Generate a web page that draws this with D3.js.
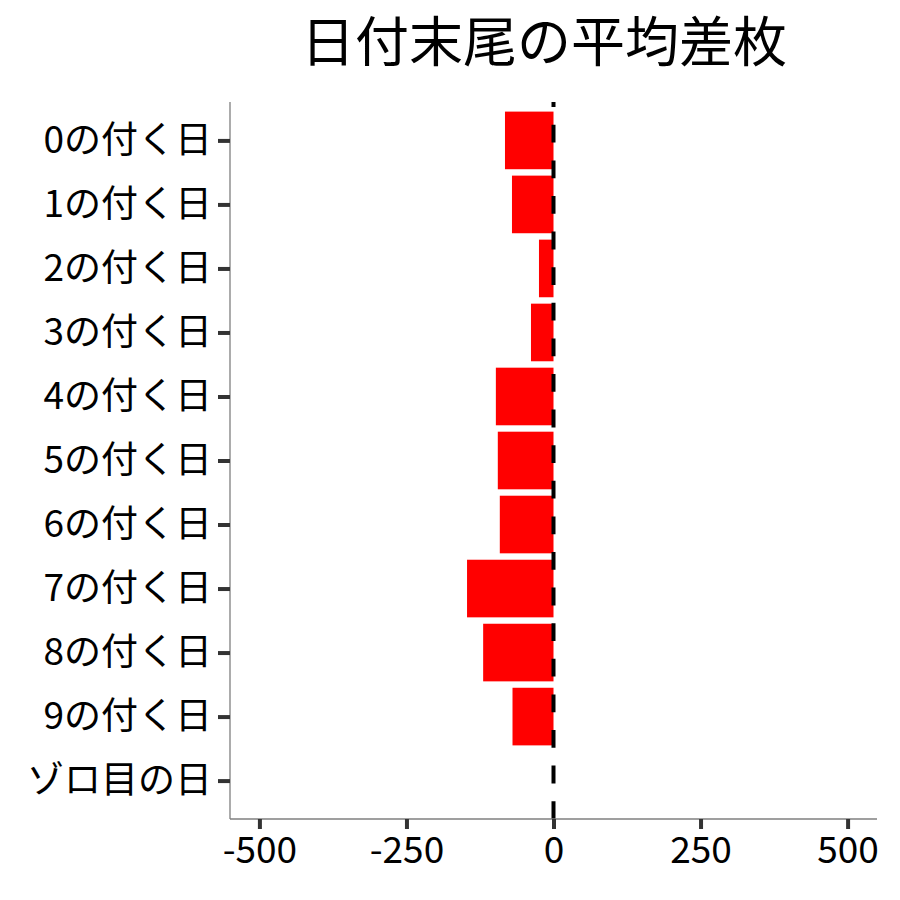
<!DOCTYPE html>
<html>
<head>
<meta charset="utf-8">
<script src="https://cdn.jsdelivr.net/npm/d3@7"></script>
<style>
  body { margin: 0; background: white; }
  text { font-family: 'Noto Sans CJK JP', 'Noto Sans', sans-serif; }
</style>
</head>
<body>
<div id="chart"></div>
<script>
var categories = ['0の付く日', '1の付く日', '2の付く日', '3の付く日', '4の付く日',
  '5の付く日', '6の付く日', '7の付く日', '8の付く日', '9の付く日', 'ゾロ目の日'];
var avgDiff = [-82.5, -70.6, -24.7, -38.3, -98, -94.7, -91.3, -147, -119.6, -69.7, 0];
var xTicks = [-500, -250, 0, 250, 500];
var titleText = '日付末尾の平均差枚';

var w = 900, h = 900;
var panel = { left: 230, right: 877, top: 102, bottom: 819 };

var svg = d3.select('#chart').append('svg')
  .attr('width', w)
  .attr('height', h)
  .attr('style', 'background-color: white');

var x = d3.scaleLinear().domain([-550, 550]).range([panel.left, panel.right]);
var y = d3.scalePoint().domain(categories).range([panel.top, panel.bottom]).padding(0.6);
var barH = y.step() * 0.9;

var data = categories.map(function(c, i) { return { cat: c, value: avgDiff[i] }; });

// bars
svg.append('g').selectAll('rect')
  .data(data)
  .enter().append('rect')
  .attr('x', function(d) { return x(Math.min(0, d.value)); })
  .attr('y', function(d) { return y(d.cat) - barH / 2; })
  .attr('width', function(d) { return Math.abs(x(d.value) - x(0)); })
  .attr('height', barH)
  .attr('fill', '#ff0000');

// zero line, dashes start at the bottom
svg.append('line')
  .attr('x1', x(0)).attr('x2', x(0))
  .attr('y1', panel.bottom).attr('y2', panel.top)
  .attr('stroke', 'black')
  .attr('stroke-width', 4)
  .attr('stroke-dasharray', '17.8,17.8');

// axes
var xAxis = svg.append('g')
  .attr('transform', 'translate(0,' + panel.bottom + ')')
  .call(d3.axisBottom(x).tickValues(xTicks).tickFormat(function(d) { return String(d); })
    .tickSize(10).tickPadding(8));
var yAxis = svg.append('g')
  .attr('transform', 'translate(' + panel.left + ',0)')
  .call(d3.axisLeft(y).tickSize(12).tickPadding(6));

[xAxis, yAxis].forEach(function(ax) {
  ax.attr('font-family', null).attr('font-size', null);
  ax.select('.domain').attr('stroke', '#7f7f7f').attr('stroke-width', 1.3);
  ax.selectAll('.tick line').attr('stroke', '#333333').attr('stroke-width', 4);
  ax.selectAll('.tick text')
    .attr('fill', 'black')
    .attr('font-size', 37);
});
xAxis.select('.domain').attr('d', 'M' + panel.left + ',0H' + panel.right);
yAxis.select('.domain').attr('d', 'M0,' + panel.top + 'V' + panel.bottom);

// title
svg.append('text')
  .attr('x', 544)
  .attr('y', 62)
  .attr('text-anchor', 'middle')
  .attr('font-size', 54)
  .attr('fill', 'black')
  .text(titleText);
</script>
</body>
</html>
